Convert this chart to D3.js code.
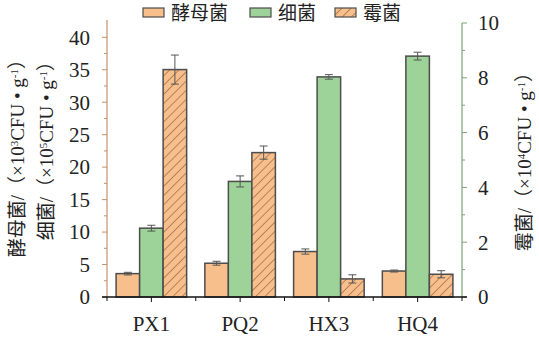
<!DOCTYPE html>
<html><head><meta charset="utf-8">
<script src="https://cdn.jsdelivr.net/npm/d3@7"></script>
<style>body{margin:0;background:#fff}svg{display:block}</style>
</head><body>
<script>
const categories = ["PX1","PQ2","HX3","HQ4"];
const yeast = [3.6, 5.2, 7.0, 4.0];
const yeastErr = [0.2, 0.3, 0.4, 0.15];
const bacteria = [10.6, 17.8, 33.9, 37.1];
const bacteriaErr = [0.45, 0.85, 0.35, 0.6];
const mold = [8.3, 5.27, 0.66, 0.83];
const moldErr = [0.53, 0.24, 0.15, 0.13];
const leftTicks = [0,5,10,15,20,25,30,35,40];
const rightTicks = [0,2,4,6,8,10];
const seriesNames = ["酵母菌","细菌","霉菌"];

const W=539,H=338;
const serif = "'Liberation Serif','Noto Sans CJK SC',serif";
const svg = d3.select("body").append("svg").attr("width",W).attr("height",H);
const defs = svg.append("defs");
const pat = defs.append("pattern").attr("id","hatch").attr("patternUnits","userSpaceOnUse")
  .attr("width",6.5).attr("height",6.5).attr("patternTransform","rotate(45)");
pat.append("rect").attr("width",6.5).attr("height",6.5).attr("fill","#f7bf8c");
pat.append("line").attr("x1",0).attr("y1",0).attr("x2",0).attr("y2",6.5).attr("stroke","#a8724e").attr("stroke-width",1.6);

const x0 = d3.scaleBand().domain(categories).range([107,462]).paddingInner(0.205).paddingOuter(0.1025);
const x1 = d3.scaleBand().domain(seriesNames).range([0,x0.bandwidth()]);
const yL = d3.scaleLinear().domain([0,42.2]).range([297,23]);
const yR = d3.scaleLinear().domain([0,10]).range([297,23]);

const fills = ["#f7bf8c","#9dd398","url(#hatch)"];
const vals = [yeast,bacteria,mold], errs=[yeastErr,bacteriaErr,moldErr];
const scales = [yL,yL,yR];

categories.forEach((c,i)=>{
  seriesNames.forEach((s,j)=>{
    const sc=scales[j], v=vals[j][i], e=errs[j][i];
    const bx = x0(c)+x1(s);
    svg.append("rect").attr("x",bx).attr("y",sc(v)).attr("width",x1.bandwidth()).attr("height",sc(0)-sc(v))
      .attr("fill",fills[j]).attr("stroke","#4d4d4d").attr("stroke-width",1.5);
    const cx = bx + x1.bandwidth()/2;
    const g = svg.append("g").attr("stroke","#555").attr("stroke-width",1);
    g.append("line").attr("x1",cx).attr("x2",cx).attr("y1",sc(v+e)).attr("y2",sc(v-e));
    g.append("line").attr("x1",cx-4).attr("x2",cx+4).attr("y1",sc(v+e)).attr("y2",sc(v+e));
    g.append("line").attr("x1",cx-4).attr("x2",cx+4).attr("y1",sc(v-e)).attr("y2",sc(v-e));
  });
});

// left axis
const leftCol="#c4926a";
const la = svg.append("g").attr("transform","translate(107,0)");
la.append("line").attr("x1",0).attr("x2",0).attr("y1",yL(0)).attr("y2",20).attr("stroke",leftCol).attr("stroke-width",1.2);
d3.range(0,42.5,2.5).forEach(t=>{
  const major = t%5===0;
  la.append("line").attr("x1",major?-5:-3).attr("x2",0).attr("y1",yL(t)).attr("y2",yL(t)).attr("stroke",leftCol).attr("stroke-width",1);
});
leftTicks.forEach(t=>{
  la.append("text").attr("x",-17).attr("y",yL(t)).attr("dy","0.35em").attr("text-anchor","end")
    .attr("font-family",serif).attr("font-size",21).attr("fill","#222").text(t);
});

// right axis
const rightCol="#77a577";
const ra = svg.append("g").attr("transform","translate(462,0)");
ra.append("line").attr("x1",0).attr("x2",0).attr("y1",yR(0)).attr("y2",yR(10)).attr("stroke",rightCol).attr("stroke-width",1.2);
d3.range(0,11,1).forEach(t=>{
  const major = t%2===0;
  ra.append("line").attr("x1",0).attr("x2",major?5:3).attr("y1",yR(t)).attr("y2",yR(t)).attr("stroke",rightCol).attr("stroke-width",1);
});
rightTicks.forEach(t=>{
  ra.append("text").attr("x",16).attr("y",yR(t)).attr("dy","0.35em").attr("text-anchor","start")
    .attr("font-family",serif).attr("font-size",21).attr("fill","#222").text(t);
});

// bottom axis
const ba = svg.append("g");
ba.append("line").attr("x1",102).attr("x2",467).attr("y1",297).attr("y2",297).attr("stroke","#111").attr("stroke-width",1.5);
const bounds = categories.map(c=>x0(c)-x0.step()*x0.paddingInner()/2).concat([462]);
bounds[0]=107;
bounds.forEach(b=>ba.append("line").attr("x1",b).attr("x2",b).attr("y1",297).attr("y2",301).attr("stroke","#111"));
categories.forEach(c=>{
  const cx=x0(c)+x0.bandwidth()/2;
  ba.append("line").attr("x1",cx).attr("x2",cx).attr("y1",297).attr("y2",302).attr("stroke","#111");
  ba.append("text").attr("x",cx).attr("y",331).attr("text-anchor","middle")
    .attr("font-family",serif).attr("font-size",21).attr("fill","#222").text(c);
});

// axis titles
function title(x,y,parts){
  const t=svg.append("text").attr("transform",`translate(${x},${y}) rotate(-90)`).attr("text-anchor","end")
    .attr("font-family",serif).attr("font-size",19).attr("fill","#222");
  parts.forEach(p=>{
    const ts=t.append("tspan").text(p[0]);
    if(p[1]) ts.attr("baseline-shift","super").attr("font-size",11);
  });
}
title(24,50,[["酵母菌/（×10"],["3",1],["CFU • g"],["-1",1],["）"]]);
title(53,52,[["细菌/（×10"],["5",1],["CFU • g"],["-1",1],["）"]]);
title(531,63,[["霉菌/（×10"],["4",1],["CFU • g"],["-1",1],["）"]]);

// legend
const leg = [[143,"酵母菌",fills[0]],[250,"细菌",fills[1]],[335,"霉菌",fills[2]]];
leg.forEach(([lx,name,f])=>{
  svg.append("rect").attr("x",lx).attr("y",8).attr("width",21).attr("height",9).attr("fill",f)
    .attr("stroke","#4d4d4d").attr("stroke-width",1.2);
  svg.append("text").attr("x",lx+28).attr("y",20).attr("font-family",serif).attr("font-size",19).attr("fill","#222").text(name);
});
</script>
</body></html>
